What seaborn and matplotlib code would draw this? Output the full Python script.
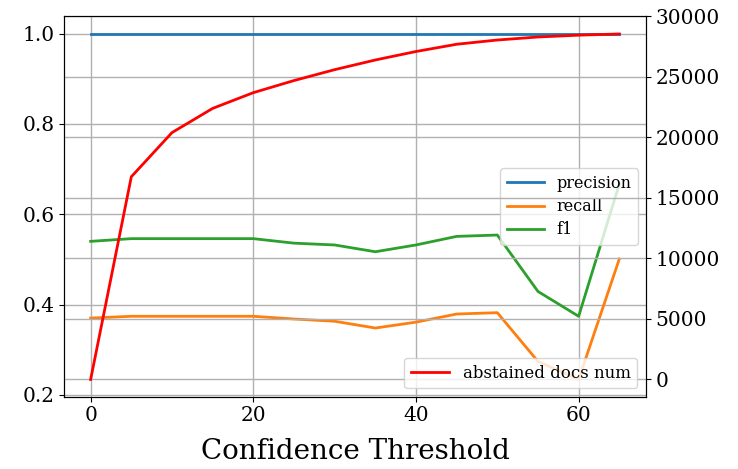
import matplotlib
matplotlib.use("Agg")
import matplotlib.pyplot as plt
import seaborn as sns
import pandas as pd

thresholds = [0, 5, 10, 15, 20, 25, 30, 35, 40, 45, 50, 55, 60, 65]
precision = [1.0] * 14
recall = [0.370, 0.374, 0.374, 0.374, 0.374, 0.368, 0.363, 0.348, 0.361,
          0.379, 0.382, 0.274, 0.234, 0.501]
f1 = [0.540, 0.546, 0.546, 0.546, 0.546, 0.536, 0.532, 0.517, 0.532,
      0.551, 0.554, 0.429, 0.374, 0.667]
abstained = [0, 16750, 20400, 22400, 23700, 24700, 25600, 26400, 27100,
             27700, 28050, 28300, 28450, 28550]

plt.rcParams["font.family"] = ["DejaVu Serif"]

df = pd.DataFrame({"threshold": thresholds, "precision": precision,
                   "recall": recall, "f1": f1, "abstained": abstained})

fig = plt.figure(figsize=(7.38, 4.69), dpi=100)
ax1 = fig.add_axes([0.087, 0.154, 0.788, 0.811])
ax2 = ax1.twinx()

sns.lineplot(data=df, x="threshold", y="precision", ax=ax1, color="#1f77b4",
             linewidth=2, label="precision")
sns.lineplot(data=df, x="threshold", y="recall", ax=ax1, color="#ff7f0e",
             linewidth=2, label="recall")
sns.lineplot(data=df, x="threshold", y="f1", ax=ax1, color="#2ca02c",
             linewidth=2, label="f1")
sns.lineplot(data=df, x="threshold", y="abstained", ax=ax2, color="red",
             linewidth=2, label="abstained docs num")

ax1.set_yticks([0.2, 0.4, 0.6, 0.8, 1.0])
ax2.set_yticks([0, 5000, 10000, 15000, 20000, 25000, 30000])
ax1.set_xticks([0, 20, 40, 60])
ax1.grid(True, color="#b0b0b0", linewidth=1)
ax2.grid(True, color="#b0b0b0", linewidth=1)
ax1.tick_params(labelsize=14.5)
ax2.tick_params(labelsize=14.5)
ax1.set_xlabel("Confidence Threshold", fontsize=20, labelpad=9)
ax1.set_ylabel("")
ax2.set_ylabel("")

ax1.legend(loc="center right", fontsize=11.5, handlelength=2.3,
           labelspacing=0.4)
ax2.legend(loc="lower right", fontsize=12, handlelength=2.3)

fig.savefig("out.png", dpi=100)
